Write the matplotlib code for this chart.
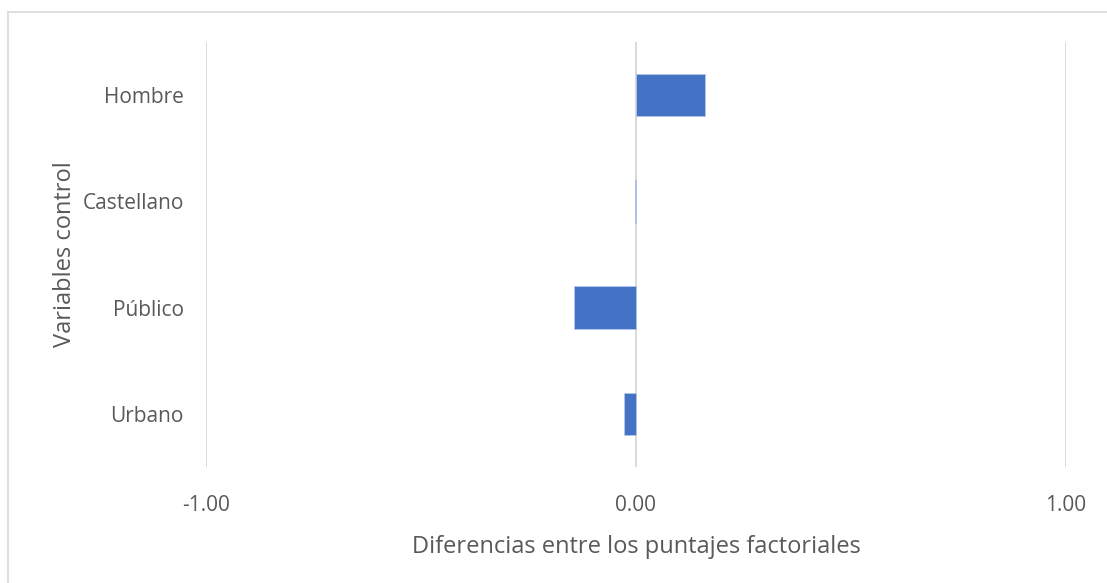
import matplotlib.pyplot as plt
from matplotlib.lines import Line2D

categorias = ["Hombre", "Castellano", "Público", "Urbano"]
diferencias = [0.160, -0.003, -0.144, -0.028]
xticks = [-1.0, 0.0, 1.0]

plt.rcParams["font.family"] = ["Open Sans", "DejaVu Sans"]
texto = "#595959"

fig = plt.figure(figsize=(11.07, 5.83), dpi=100)
ax = fig.add_axes([206 / 1107, 1 - 467 / 583, 860 / 1107, 425 / 583])

pos = list(range(len(categorias)))[::-1]
ax.barh(pos, diferencias, height=0.4, color="#4472C4", edgecolor="#B4C7E7",
        linewidth=0.6, zorder=3)

ax.set_xlim(-1, 1)
ax.set_ylim(-0.5, len(categorias) - 0.5)
ax.set_xticks(xticks)
ax.set_xticklabels([f"{v:.2f}" for v in xticks], fontsize=15, color=texto)
ax.set_yticks(pos)
ax.set_yticklabels(categorias, fontsize=15, color=texto)
ax.tick_params(length=0)
ax.tick_params(axis="x", pad=20)
ax.tick_params(axis="y", pad=16)
ax.grid(axis="x", color="#D9D9D9", linewidth=1.4, zorder=0)
for s in ax.spines.values():
    s.set_visible(False)

ax.set_xlabel("Diferencias entre los puntajes factoriales", fontsize=17,
              color=texto, labelpad=14)
ax.set_ylabel("Variables control", fontsize=17, color=texto, labelpad=4)

# marco del área del gráfico
fig.add_artist(Line2D([8 / 1107, 8 / 1107], [0, 1 - 12 / 583],
                      transform=fig.transFigure, color="#D9D9D9", lw=1.2))
fig.add_artist(Line2D([8 / 1107, 1], [1 - 12 / 583, 1 - 12 / 583],
                      transform=fig.transFigure, color="#D9D9D9", lw=1.2))

fig.savefig("out.png", dpi=100)
